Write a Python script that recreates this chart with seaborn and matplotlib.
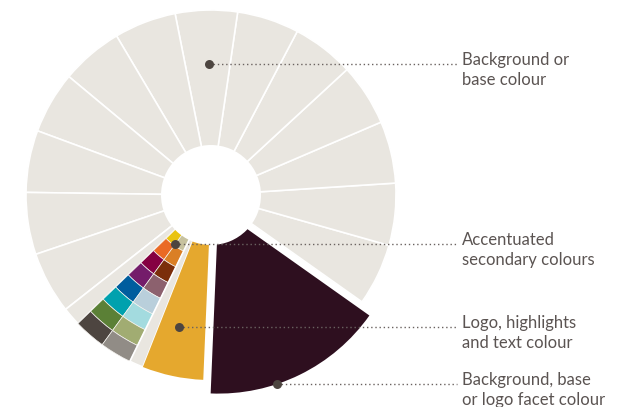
import numpy as np
import matplotlib
matplotlib.use("Agg")
import matplotlib.pyplot as plt
import seaborn as sns

# ---------------- data ----------------
# Ring slices, counter-clockwise, starting at the right edge of the dark facet slice (deg)
start_angle = -35.3
segment_kind = ["base", "base", "base", "base", "base", "base", "base",
                "base", "base", "base", "base", "base", "base",
                "base", "accent", "base", "logo", "facet"]
segment_span = [19.5, 19.5, 19.5, 19.5, 19.5, 19.5, 19.5,
                19.5, 19.5, 19.5, 19.5, 19.5, 19.5,
                5.8, 20.0, 4.4, 19.2, 57.1]
kind_colour = {"base": "#E9E6E0", "logo": "#E5A82E", "facet": "#2E0F1F"}

# Accent swatches: two columns (outer-angle column first), inner ring -> outer ring
accent_col_a = ["#E9C30F", "#EA6A25", "#850042", "#741C6A",
                "#005D9E", "#00A1AE", "#5B8036", "#4D4540"]
accent_col_b = ["#C7C29F", "#DA7F25", "#7B2E0A", "#8C616E",
                "#B9CFDB", "#A3DBDF", "#A1AC72", "#918C86"]

labels = ["Background or\nbase colour",
          "Accentuated\nsecondary colours",
          "Logo, highlights\nand text colour",
          "Background, base\nor logo facet colour"]
# marker position for each label (angle deg, radius) on the wheel
label_theta = [90.9, 233.7, 256.4, 288.5]
label_r = [131, 61, 136, 185]

# ---------------- figure ----------------
sns.set_theme(style="white")
plt.rcParams["font.family"] = ["Lato", "DejaVu Sans"]

W, H = 633, 407
fig = plt.figure(figsize=(W / 100, H / 100), dpi=100)
fig.patch.set_facecolor("white")

R = 185.0          # outer radius (px)
R_HOLE = 50.0      # white centre hole radius (px)
R_IN = 45.0        # inner radius of swatch rings
cx, cy = 211.0, H - 195.0          # wheel centre (px from bottom-left)
ex, ey = 218.4, H - 208.6          # exploded centre of facet slice


def polar_axes(x0, y0, z):
    a = fig.add_axes([(x0 - R) / W, (y0 - R) / H, 2 * R / W, 2 * R / H],
                     projection="polar", zorder=z)
    a.set_ylim(0, R)
    a.set_axis_off()
    return a


ax_facet = polar_axes(ex, ey, 1)
ax = polar_axes(cx, cy, 2)

theta0 = start_angle
for kind, span in zip(segment_kind, segment_span):
    t0 = np.deg2rad(theta0)
    w = np.deg2rad(span)
    if kind == "facet":
        ax_facet.bar(t0 + w / 2, R - 20, width=w, bottom=20,
                     color=kind_colour[kind], edgecolor="none",
                     linewidth=0, clip_on=False)
    elif kind == "accent":
        n = len(accent_col_a)
        ring = (R - R_IN) / n
        half = w / 2
        for i in range(n):
            ax.bar(t0 + half / 2, ring, width=half, bottom=R_IN + i * ring,
                   color=accent_col_a[i], edgecolor="#F4F2EE",
                   linewidth=0.5, clip_on=False)
            ax.bar(t0 + half + half / 2, ring, width=half,
                   bottom=R_IN + i * ring,
                   color=accent_col_b[i], edgecolor="#F4F2EE",
                   linewidth=0.5, clip_on=False)
    elif kind == "logo":
        ax.bar(t0 + w / 2, R, width=w, bottom=0, color=kind_colour[kind],
               edgecolor="none", linewidth=0, clip_on=False)
    else:
        ax.bar(t0 + w / 2, R, width=w, bottom=0, color=kind_colour[kind],
               edgecolor="white", linewidth=1.2, clip_on=False)
    theta0 += span

# white hole in the centre
ax.bar(0, R_HOLE, width=2 * np.pi, bottom=0, color="white",
       edgecolor="none", zorder=5)

# ---------------- labels & leaders ----------------
ov = fig.add_axes([0, 0, 1, 1], zorder=3)
ov.set_xlim(0, W)
ov.set_ylim(0, H)
ov.set_axis_off()
ov.patch.set_alpha(0)

text_col = "#5B5452"
for k, (lab, th, r) in enumerate(zip(labels, label_theta, label_r)):
    src = ax_facet if k == 3 else ax
    disp = src.transData.transform((np.deg2rad(th), r))
    px, py = ov.transData.inverted().transform(disp)
    ov.plot([px, 457], [py, py], color="#6A6260", lw=1.0,
            linestyle=(0, (1, 2)), solid_capstyle="butt")
    ov.scatter([px], [py], s=42, color="#4D4540", zorder=4, linewidths=0)
    lines = lab.split("\n")
    for j, ln in enumerate(lines):
        ov.text(462, py - 1 - 20 * j, ln, fontsize=12, color=text_col,
                ha="left", va="baseline")

fig.savefig("out.png", dpi=100, facecolor="white")
